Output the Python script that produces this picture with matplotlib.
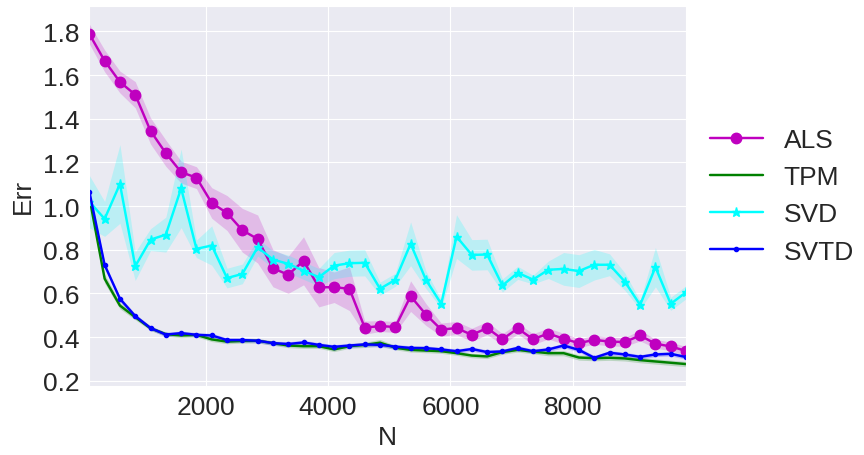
import numpy as np
import matplotlib
matplotlib.use("Agg")
import matplotlib.pyplot as plt
import seaborn as sns

# sample sizes: 100, 350, ..., 9850
N = np.arange(100, 9851, 250)

als = [1.788, 1.665, 1.568, 1.510, 1.344, 1.242, 1.155, 1.130, 1.014, 0.968,
       0.889, 0.849, 0.715, 0.685, 0.749, 0.628, 0.628, 0.621, 0.443, 0.450,
       0.446, 0.587, 0.503, 0.434, 0.441, 0.410, 0.441, 0.390, 0.439, 0.390,
       0.416, 0.392, 0.372, 0.387, 0.379, 0.377, 0.407, 0.369, 0.357, 0.336]
als_sd = [0.045, 0.05, 0.05, 0.06, 0.06, 0.06, 0.05, 0.05, 0.07, 0.08,
          0.10, 0.11, 0.085, 0.085, 0.11, 0.09, 0.07, 0.10, 0.03, 0.025,
          0.025, 0.07, 0.05, 0.03, 0.03, 0.03, 0.03, 0.025, 0.025, 0.025,
          0.025, 0.025, 0.02, 0.02, 0.02, 0.02, 0.025, 0.02, 0.02, 0.02]

tpm = [1.040, 0.667, 0.544, 0.491, 0.440, 0.413, 0.407, 0.410, 0.389, 0.379,
       0.382, 0.383, 0.372, 0.361, 0.358, 0.358, 0.343, 0.358, 0.364, 0.374,
       0.351, 0.341, 0.338, 0.335, 0.326, 0.315, 0.311, 0.331, 0.341, 0.333,
       0.326, 0.326, 0.306, 0.303, 0.305, 0.302, 0.294, 0.288, 0.282, 0.276]
tpm_sd = [0.02, 0.02, 0.015, 0.012, 0.01, 0.01, 0.01, 0.01, 0.01, 0.01,
          0.01, 0.01, 0.01, 0.01, 0.01, 0.01, 0.01, 0.01, 0.012, 0.015,
          0.01, 0.01, 0.01, 0.01, 0.01, 0.01, 0.01, 0.01, 0.01, 0.01,
          0.012, 0.012, 0.012, 0.012, 0.012, 0.012, 0.012, 0.012, 0.012, 0.012]

svd = [1.020, 0.941, 1.101, 0.724, 0.846, 0.869, 1.081, 0.804, 0.819, 0.670,
       0.689, 0.811, 0.755, 0.735, 0.704, 0.674, 0.727, 0.738, 0.740, 0.621,
       0.662, 0.827, 0.662, 0.552, 0.860, 0.776, 0.778, 0.636, 0.694, 0.663,
       0.708, 0.712, 0.702, 0.731, 0.731, 0.654, 0.547, 0.720, 0.552, 0.605]
svd_sd = [0.12, 0.08, 0.18, 0.065, 0.05, 0.08, 0.18, 0.04, 0.09, 0.045,
          0.045, 0.04, 0.04, 0.04, 0.04, 0.04, 0.06, 0.06, 0.06, 0.03,
          0.03, 0.10, 0.04, 0.02, 0.10, 0.07, 0.07, 0.03, 0.03, 0.02,
          0.04, 0.075, 0.075, 0.07, 0.05, 0.04, 0.02, 0.09, 0.03, 0.03]

svtd = [1.066, 0.730, 0.575, 0.496, 0.441, 0.411, 0.418, 0.410, 0.407, 0.386,
        0.386, 0.383, 0.372, 0.368, 0.375, 0.364, 0.355, 0.361, 0.366, 0.364,
        0.356, 0.350, 0.349, 0.343, 0.335, 0.345, 0.331, 0.334, 0.350, 0.335,
        0.343, 0.361, 0.341, 0.305, 0.328, 0.320, 0.309, 0.320, 0.323, 0.308]
svtd_sd = [0.01] * 40

sns.set_style("darkgrid")
plt.rcParams["font.family"] = ["Liberation Sans", "DejaVu Sans"]

fig = plt.figure(figsize=(8.64, 4.56), dpi=100)
ax = fig.add_axes([0.1034, 0.152, 0.6906, 0.833])

series = [
    ("ALS", als, als_sd, "m", "o", 7.5),
    ("TPM", tpm, tpm_sd, "g", None, 0),
    ("SVD", svd, svd_sd, "cyan", "*", 6.5),
    ("SVTD", svtd, svtd_sd, "b", ".", 6),
]
for name, mean, sd, col, mk, ms in series:
    mean = np.array(mean)
    sd = np.array(sd)
    ax.fill_between(N, mean - sd, mean + sd, color=col, alpha=0.2, linewidth=0)
    ax.plot(N, mean, color=col, marker=mk, markersize=ms, linewidth=1.75, label=name)

ax.set_xlim(100, 9850)
ax.set_ylim(0.177, 1.917)
ax.set_xticks([2000, 4000, 6000, 8000])
ax.set_yticks([0.2, 0.4, 0.6, 0.8, 1.0, 1.2, 1.4, 1.6, 1.8])
ax.tick_params(labelsize=19, pad=7, length=0)
ax.set_xlabel("N", fontsize=19, labelpad=4)
ax.set_ylabel("Err", fontsize=19, labelpad=6)

ax.legend(loc="center left", bbox_to_anchor=(1, 0.5), frameon=False, fontsize=19)

fig.savefig("out.png", dpi=100)
